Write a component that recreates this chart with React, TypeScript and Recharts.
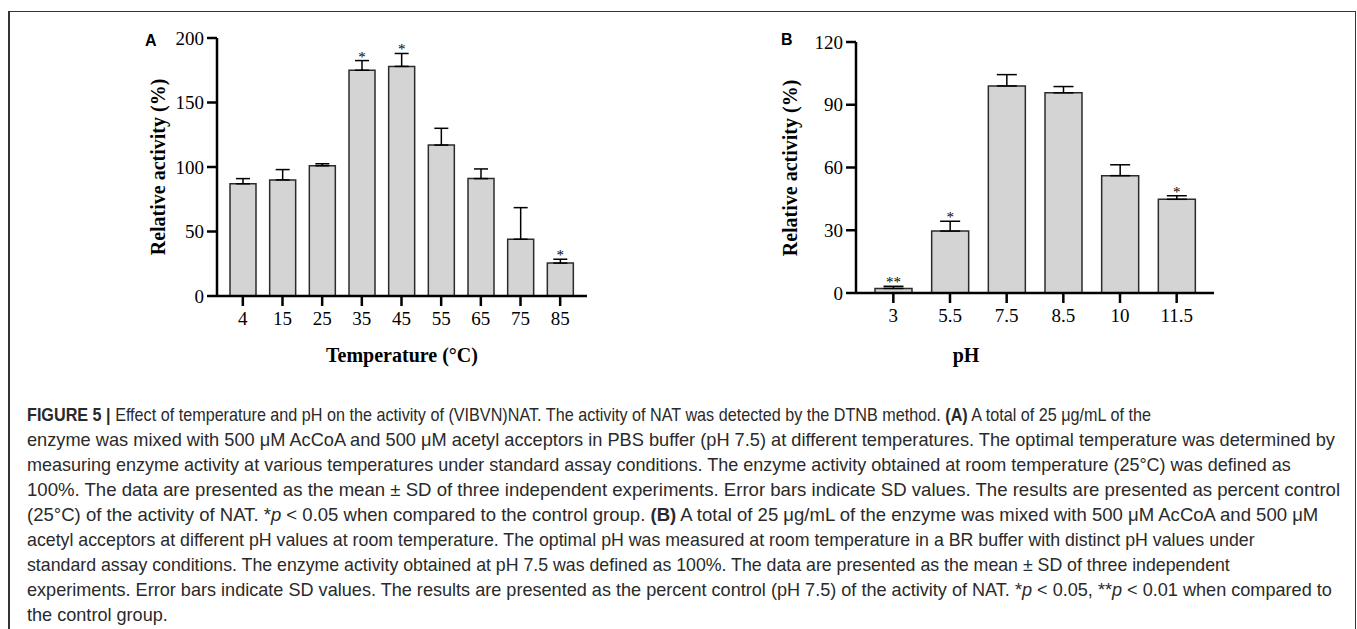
import React from 'react';
import { BarChart, Bar, XAxis, YAxis, ErrorBar, LabelList } from 'recharts';

// Panel A: temperature
const tempCats = ['4', '15', '25', '35', '45', '55', '65', '75', '85'];
const tempMean = [87, 90, 101, 175, 178, 117, 91, 44, 25.5];
const tempSD = [4, 8, 1.5, 7.5, 10, 13, 7.5, 24.5, 3];
const tempSig = ['', '', '', '*', '*', '', '', '', '*'];
const tempTicks = [0, 50, 100, 150, 200];

// Panel B: pH
const phCats = ['3', '5.5', '7.5', '8.5', '10', '11.5'];
const phMean = [2.2, 29.6, 99, 95.7, 56.1, 44.8];
const phSD = [1, 4.7, 5.4, 3, 5.2, 1.7];
const phSig = ['**', '*', '', '', '', '*'];
const phTicks = [0, 30, 60, 90, 120];

const tempData = tempCats.map((c, i) => ({ cat: c, mean: tempMean[i], err: [0, tempSD[i]], sig: tempSig[i] }));
const phData = phCats.map((c, i) => ({ cat: c, mean: phMean[i], err: [0, phSD[i]], sig: phSig[i] }));

const serif = '"Liberation Serif", "Times New Roman", serif';
const sans = '"Liberation Sans", Arial, sans-serif';

const axisStyle = { stroke: '#000', strokeWidth: 2.5 };
const tickStyle = { fill: '#000', fontSize: 19, fontFamily: serif };

// asterisks sit just above the top of the error bar
const makeSig = (means: number[], sds: number[]) => (props: any) => {
  const { index, value } = props;
  if (!value) return null;
  const vb = props.viewBox || props;
  const x = Number(vb.x), y = Number(vb.y), w = Number(vb.width), h = Number(vb.height);
  const perUnit = h / means[index];
  const top = y - sds[index] * perUnit;
  return (
    <text x={x + w / 2} y={top + 1} textAnchor="middle" fontFamily={serif} fontSize={15} fill="#000">
      {value}
    </text>
  );
};

const captionLines: React.ReactNode[] = [
  <><b>FIGURE 5 |</b> Effect of temperature and pH on the activity of (VIBVN)NAT. The activity of NAT was detected by the DTNB method. <b>(A)</b> A total of 25 μg/mL of the</>,
  <>enzyme was mixed with 500 μM AcCoA and 500 μM acetyl acceptors in PBS buffer (pH 7.5) at different temperatures. The optimal temperature was determined by</>,
  <>measuring enzyme activity at various temperatures under standard assay conditions. The enzyme activity obtained at room temperature (25°C) was defined as</>,
  <>100%. The data are presented as the mean ± SD of three independent experiments. Error bars indicate SD values. The results are presented as percent control</>,
  <>(25°C) of the activity of NAT. *<i>p</i> &lt; 0.05 when compared to the control group. <b>(B)</b> A total of 25 μg/mL of the enzyme was mixed with 500 μM AcCoA and 500 μM</>,
  <>acetyl acceptors at different pH values at room temperature. The optimal pH was measured at room temperature in a BR buffer with distinct pH values under</>,
  <>standard assay conditions. The enzyme activity obtained at pH 7.5 was defined as 100%. The data are presented as the mean ± SD of three independent</>,
  <>experiments. Error bars indicate SD values. The results are presented as the percent control (pH 7.5) of the activity of NAT. *<i>p</i> &lt; 0.05, **<i>p</i> &lt; 0.01 when compared to</>,
  <>the control group.</>,
];
// the original face is narrower in capitals; squeeze lines to their printed length
const captionScale = [0.894, 1.006, 0.995, 1.027, 1.024, 0.982, 0.98, 1, 1];

const abs = (left: number, top: number): React.CSSProperties => ({ position: 'absolute', left, top });

export default function App() {
  return (
    <div style={{ position: 'absolute', left: 0, top: 0, width: 1357, height: 629, background: '#fff', overflow: 'hidden' }}>
      {/* frame */}
      <div style={{ position: 'absolute', left: 8, top: 11, width: 1345, height: 700, border: '1px solid #333', borderLeftWidth: 2 }} />

      {/* panel A */}
      <div style={abs(100, 20)}>
        <BarChart width={520} height={340} data={tempData} margin={{ top: 18, right: 33, left: 67, bottom: 34 }}>
          <XAxis dataKey="cat" axisLine={axisStyle} tickLine={axisStyle} tick={tickStyle}
            tickSize={10} tickMargin={6} height={30} padding={{ left: 6, right: 7 }} interval={0} />
          <YAxis domain={[0, 200]} ticks={tempTicks} axisLine={axisStyle} tickLine={axisStyle} tick={tickStyle}
            tickSize={10} tickMargin={3} width={50} interval={0} />
          <Bar dataKey="mean" barSize={26} fill="#d4d4d4" stroke="#2b2b2b" strokeWidth={1.5} isAnimationActive={false}>
            <ErrorBar dataKey="err" width={7} stroke="#000" strokeWidth={1.5} direction="y" isAnimationActive={false} />
            <LabelList dataKey="sig" content={makeSig(tempMean, tempSD)} />
          </Bar>
        </BarChart>
      </div>

      {/* panel B */}
      <div style={abs(740, 20)}>
        <BarChart width={520} height={340} data={phData} margin={{ top: 22, right: 46, left: 66, bottom: 37 }}>
          <XAxis dataKey="cat" axisLine={axisStyle} tickLine={axisStyle} tick={tickStyle}
            tickSize={10} tickMargin={6} height={30} padding={{ left: 9, right: 9 }} interval={0} />
          <YAxis domain={[0, 120]} ticks={phTicks} axisLine={axisStyle} tickLine={axisStyle} tick={tickStyle}
            tickSize={10} tickMargin={3} width={50} interval={0} />
          <Bar dataKey="mean" barSize={37} fill="#d4d4d4" stroke="#2b2b2b" strokeWidth={1.5} isAnimationActive={false}>
            <ErrorBar dataKey="err" width={10} stroke="#000" strokeWidth={1.5} direction="y" isAnimationActive={false} />
            <LabelList dataKey="sig" content={makeSig(phMean, phSD)} />
          </Bar>
        </BarChart>
      </div>

      {/* panel letters */}
      <div style={{ ...abs(145, 32.5), fontFamily: sans, fontWeight: 700, fontSize: 16, lineHeight: 1 }}>A</div>
      <div style={{ ...abs(781, 31.5), fontFamily: sans, fontWeight: 700, fontSize: 16, lineHeight: 1 }}>B</div>

      {/* axis titles */}
      <div style={{ ...abs(158, 167), transform: 'translate(-50%, -50%) rotate(-90deg)', whiteSpace: 'nowrap', fontFamily: serif, fontWeight: 700, fontSize: 20, lineHeight: 1 }}>
        Relative activity (%)
      </div>
      <div style={{ ...abs(790, 168), transform: 'translate(-50%, -50%) rotate(-90deg)', whiteSpace: 'nowrap', fontFamily: serif, fontWeight: 700, fontSize: 20, lineHeight: 1 }}>
        Relative activity (%)
      </div>
      <div style={{ ...abs(402, 355), transform: 'translate(-50%, -50%)', whiteSpace: 'nowrap', fontFamily: serif, fontWeight: 700, fontSize: 20, lineHeight: 1 }}>
        Temperature (°C)
      </div>
      <div style={{ ...abs(966, 355), transform: 'translate(-50%, -50%)', whiteSpace: 'nowrap', fontFamily: serif, fontWeight: 700, fontSize: 20, lineHeight: 1 }}>
        pH
      </div>

      {/* caption */}
      <div style={{ ...abs(27, 402.6), fontFamily: sans, fontSize: 18.1, lineHeight: '25.1px', color: '#2a2a2a', whiteSpace: 'nowrap' }}>
        {captionLines.map((l, i) => (
          <div key={i} style={{ transform: `scaleX(${captionScale[i]})`, transformOrigin: 'left center' }}>{l}</div>
        ))}
      </div>
    </div>
  );
}
